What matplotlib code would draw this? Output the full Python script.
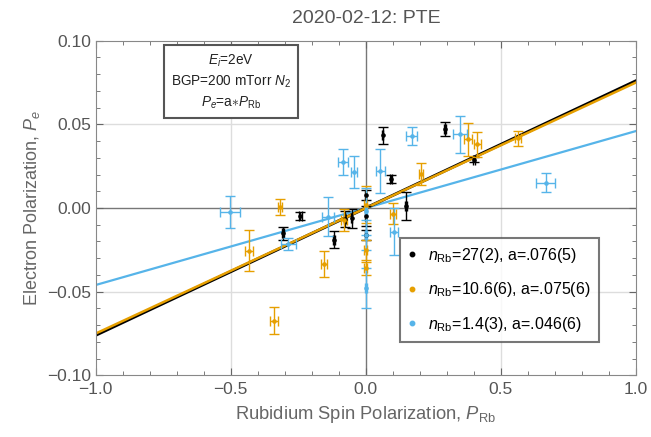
import numpy as np
import matplotlib
matplotlib.use("Agg")
import matplotlib.pyplot as plt
from matplotlib.lines import Line2D
from matplotlib.ticker import MultipleLocator

plt.rcParams['font.family'] = ['Liberation Sans', 'DejaVu Sans']
plt.rcParams['mathtext.fontset'] = 'custom'
plt.rcParams['mathtext.rm'] = 'Liberation Sans'
plt.rcParams['mathtext.it'] = 'Liberation Sans:italic'

# -------------------------
# DATA: x, y, xerr, yerr
# -------------------------
blk_x = [-0.306, -0.242, -0.118, -0.078, -0.053, 0.0, 0.0, 0.0, 0.062, 0.0925, 0.148, 0.292, 0.400]
blk_y = [-0.0151, -0.0048, -0.019, -0.0065, -0.0062, 0.008, -0.005, -0.016, 0.0434, 0.0175, 0.0012, 0.047, 0.0287]
blk_xe = [0.004, 0.004, 0.003, 0.004, 0.003, 0.002, 0.002, 0.002, 0.003, 0.003, 0.003, 0.004, 0.004]
blk_ye = [0.0038, 0.0025, 0.005, 0.005, 0.0055, 0.003, 0.006, 0.003, 0.005, 0.0024, 0.0085, 0.0042, 0.0015]

org_x = [-0.434, -0.340, -0.318, -0.155, -0.081, 0.0, 0.0, 0.0, 0.101, 0.203, 0.379, 0.413, 0.564]
org_y = [-0.0255, -0.0673, 0.0004, -0.0335, -0.0072, 0.002, -0.025, -0.036, -0.0035, 0.0203, 0.041, 0.0382, 0.0416]
org_xe = [0.015, 0.015, 0.006, 0.010, 0.010, 0.006, 0.006, 0.006, 0.010, 0.008, 0.015, 0.012, 0.012]
org_ye = [0.0122, 0.008, 0.0047, 0.0077, 0.0065, 0.011, 0.006, 0.004, 0.0062, 0.0067, 0.010, 0.0075, 0.0045]

blu_x = [-0.503, -0.287, -0.139, -0.084, -0.044, 0.0, 0.0, 0.0, 0.054, 0.104, 0.169, 0.348, 0.666]
blu_y = [-0.0022, -0.0215, -0.0052, 0.0277, 0.0213, -0.002, -0.016, -0.048, 0.0221, -0.0141, 0.0432, 0.044, 0.0151]
blu_xe = [0.037, 0.027, 0.022, 0.018, 0.010, 0.004, 0.004, 0.004, 0.016, 0.015, 0.022, 0.027, 0.035]
blu_ye = [0.0095, 0.0035, 0.0115, 0.0078, 0.0095, 0.014, 0.009, 0.012, 0.013, 0.014, 0.0055, 0.011, 0.0058]

slopes = [0.076, 0.075, 0.046]
labels = [r"$n_{\mathrm{Rb}}$=27(2), a=.076(5)",
          r"$n_{\mathrm{Rb}}$=10.6(6), a=.075(6)",
          r"$n_{\mathrm{Rb}}$=1.4(3), a=.046(6)"]
colors = ['black', '#E69F00', '#56B4E9']

# -------------------------
# PLOT
# -------------------------
fig = plt.figure(figsize=(6.51, 4.37), dpi=100, facecolor='w')
ax = fig.add_axes([0.147, 0.141, 0.83, 0.766])
gcol = '#666666'

ax.set_xlim(-1, 1)
ax.set_ylim(-0.1, 0.1)
for g in [-0.5, 0.5]:
    ax.axvline(g, color='#dddddd', lw=1, zorder=0)
for g in [-0.05, 0.05]:
    ax.axhline(g, color='#dddddd', lw=1, zorder=0)
ax.axvline(0, color='#777777', lw=1, zorder=1)
ax.axhline(0, color='#777777', lw=1, zorder=1)

series = [(blk_x, blk_y, blk_xe, blk_ye), (org_x, org_y, org_xe, org_ye), (blu_x, blu_y, blu_xe, blu_ye)]
for (x, y, xe, ye), c in zip(series, colors):
    ax.errorbar(x, y, xerr=xe, yerr=ye, fmt='o', ms=2.3, color=c, ecolor=c,
                elinewidth=1, capsize=3.5, capthick=1, zorder=3)

xl = np.array([-1.0, 1.0])
ax.plot(xl, slopes[2] * xl, color=colors[2], lw=1.6, zorder=2)
ax.plot(xl, slopes[0] * xl, color=colors[0], lw=2.2, zorder=2)
ax.plot(xl, slopes[1] * xl, color=colors[1], lw=1.8, zorder=2)

ax.xaxis.set_major_locator(MultipleLocator(0.5))
ax.xaxis.set_minor_locator(MultipleLocator(0.1))
ax.yaxis.set_major_locator(MultipleLocator(0.05))
ax.yaxis.set_minor_locator(MultipleLocator(0.01))
ax.xaxis.set_major_formatter(lambda v, p: f"{v:.1f}".replace('-', '\u2212'))
ax.yaxis.set_major_formatter(lambda v, p: f"{v:.2f}".replace('-', '\u2212'))
ax.tick_params(which='both', direction='in', top=True, right=True, color=gcol,
               labelcolor='#555555', labelsize=12.5)
ax.tick_params(which='major', length=5)
ax.tick_params(which='minor', length=3)
ax.tick_params(axis='y', pad=3)
ax.tick_params(axis='x', pad=4.5)
for s in ax.spines.values():
    s.set_color('#888888')

ax.set_xlabel(r"Rubidium Spin Polarization, $P_{\mathrm{Rb}}$", fontsize=13.2, color=gcol, labelpad=5)
ax.set_ylabel(r"Electron Polarization, $P_e$", fontsize=13, color=gcol)
ax.set_title("2020-02-12: PTE", fontsize=14, color='#555555', pad=13)

ax.text(-0.50, 0.0755,
        "$E_i$=2eV\nBGP=200 mTorr $N_2$\n$P_e$=a$\\ast$$P_{\\mathrm{Rb}}$",
        ha='center', va='center', fontsize=9.8, linespacing=1.4, color='#222222',
        bbox=dict(boxstyle='square,pad=0.5', fc='white', ec='#555555', lw=1.5), zorder=5)

handles = [Line2D([], [], ls='none', marker='o', ms=3.2, color=c) for c in colors]
leg = ax.legend(handles, labels, loc='lower right', bbox_to_anchor=(0.931, 0.1),
                fontsize=11.5, frameon=True, fancybox=False, handlelength=0.5,
                handletextpad=0.75, labelspacing=0.98, borderpad=0.5, borderaxespad=0)
leg.get_frame().set_edgecolor('#555555')
leg.get_frame().set_linewidth(1.5)
leg.set_zorder(6)

fig.savefig('out.png', dpi=100)
